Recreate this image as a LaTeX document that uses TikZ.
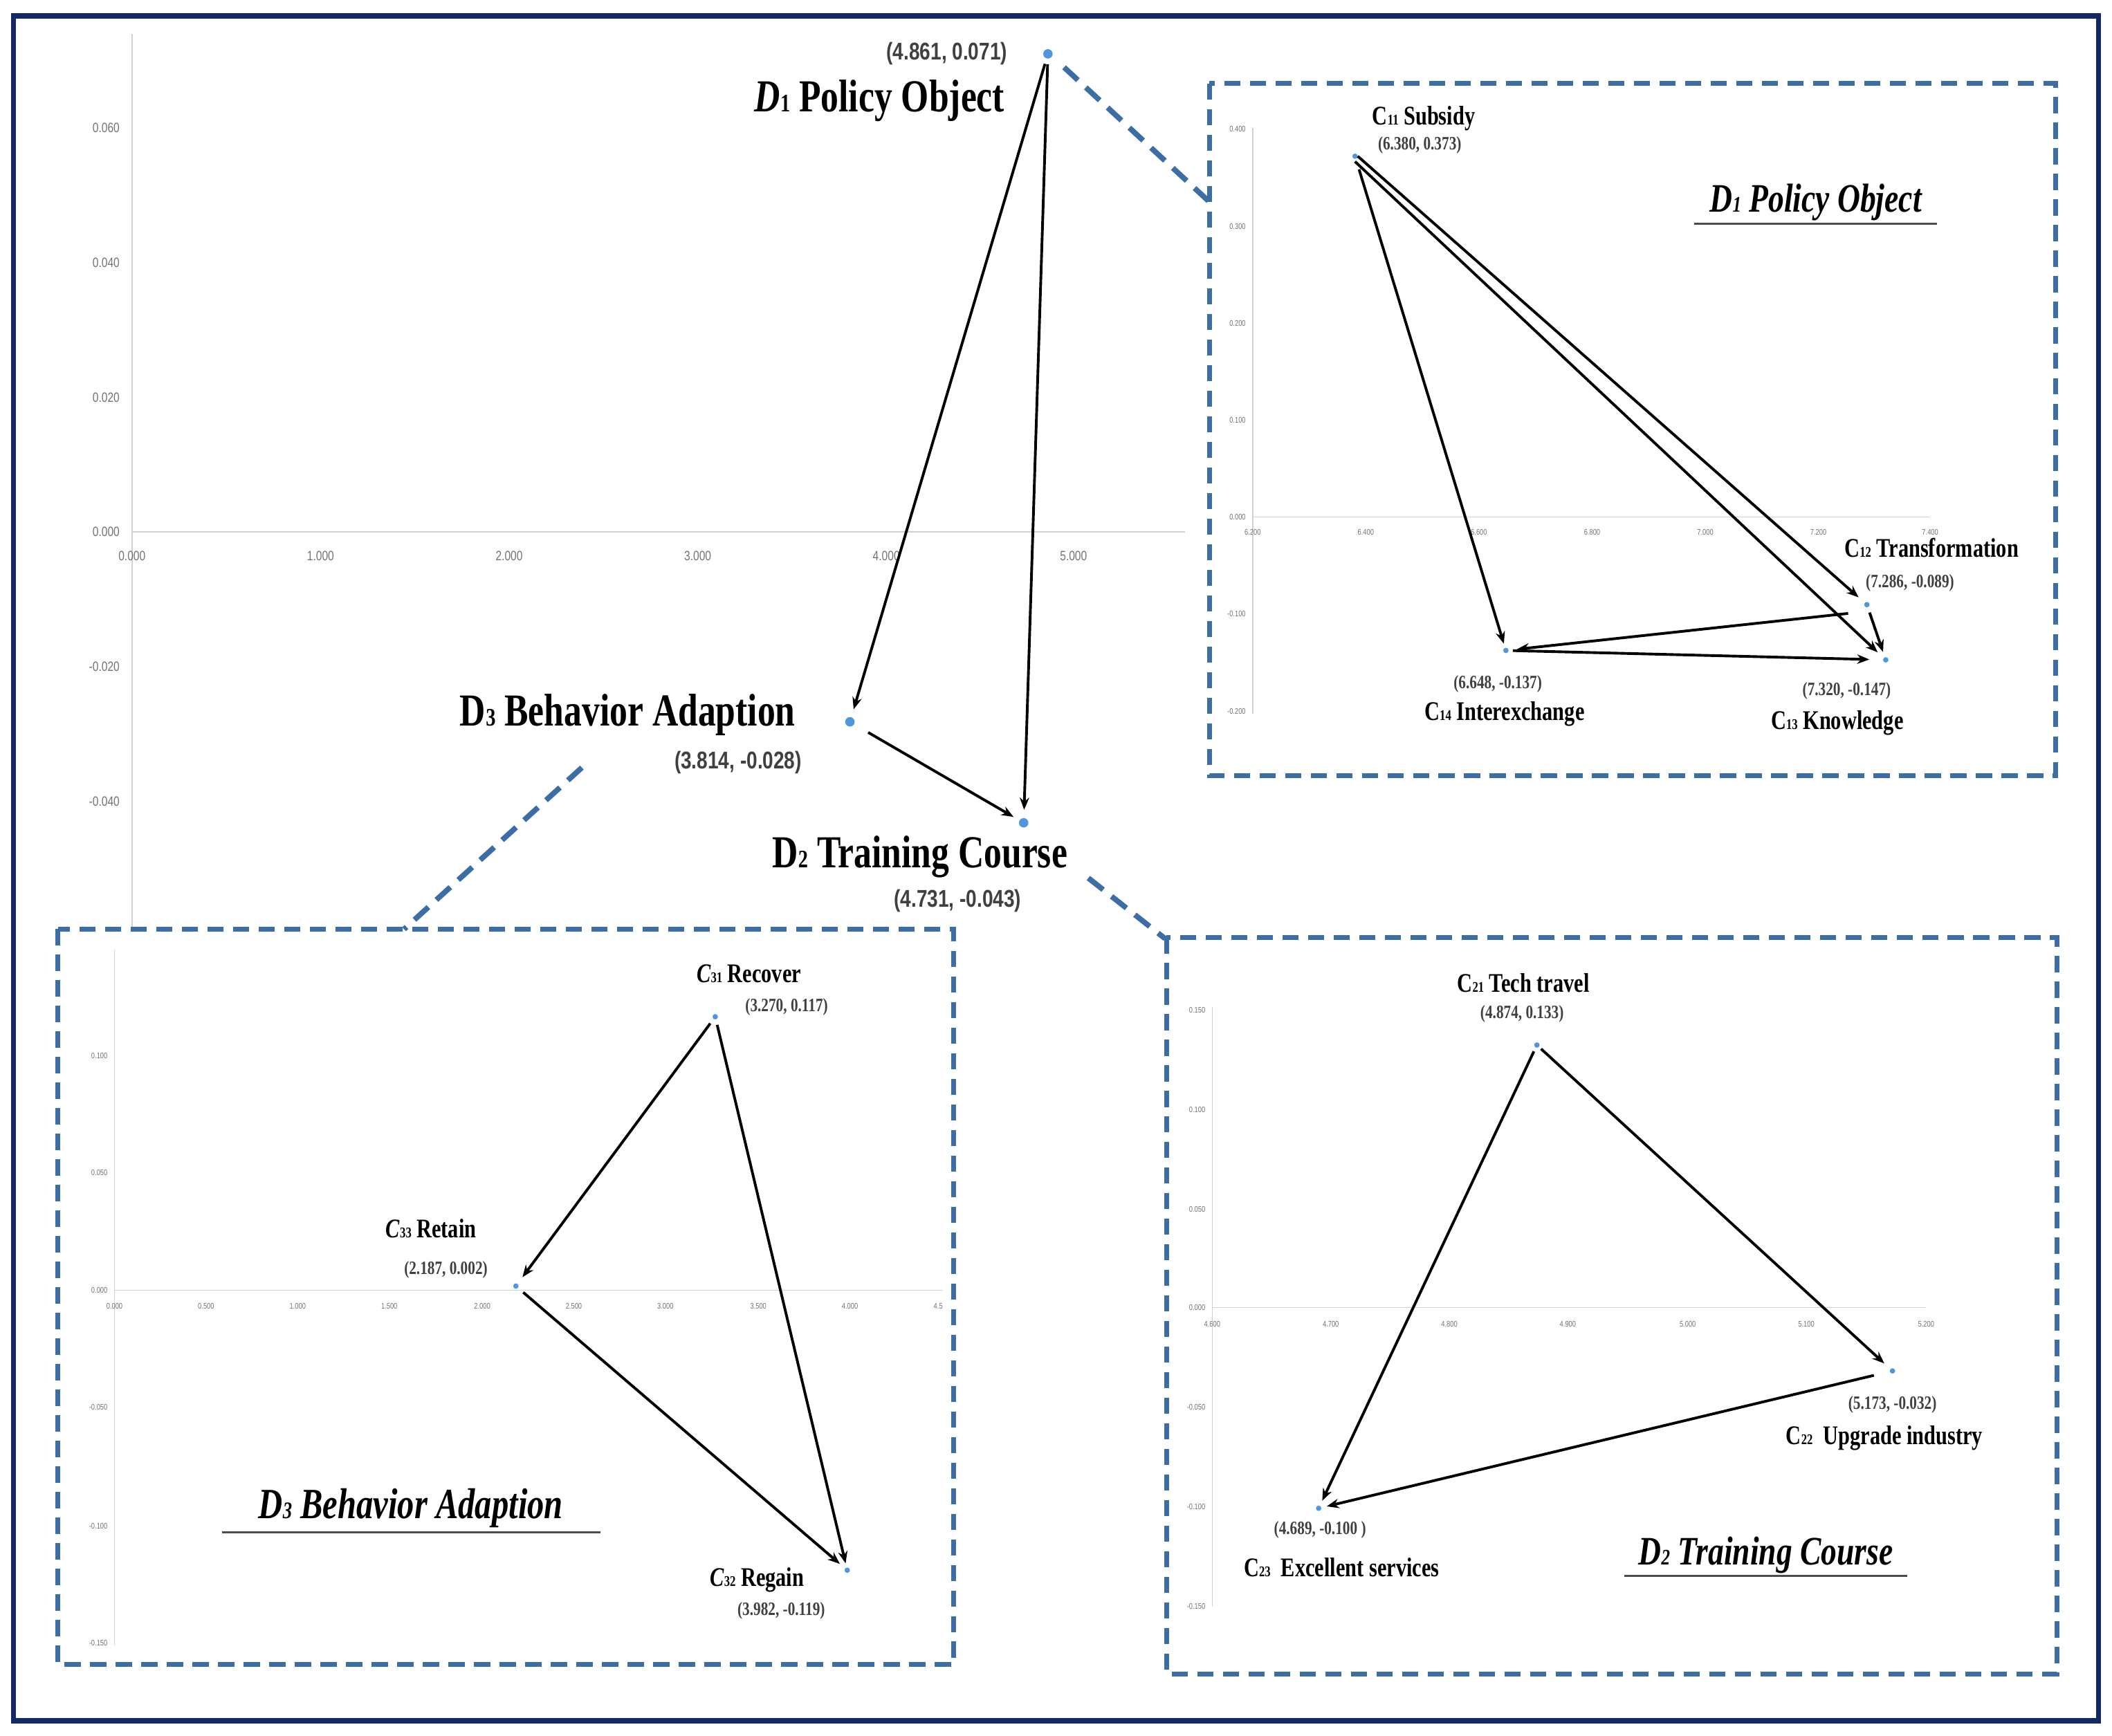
\documentclass[tikz,border=0pt]{standalone}
\usepackage{fontspec}
\setmainfont{Liberation Serif}
\newfontfamily\cond[FakeStretch=0.78]{Liberation Serif}
\newfontfamily\condsans[FakeStretch=0.8]{Liberation Sans}
\usetikzlibrary{arrows.meta}
\newcommand\sbx[1]{\scalebox{0.55}{#1}}
\definecolor{frame}{RGB}{20,40,100}
\definecolor{dblue}{RGB}{60,110,165}
\definecolor{pt}{RGB}{80,150,220}
\begin{document}
\begin{tikzpicture}[x=1pt,y=-1pt,
  axis/.style={draw=black!18,line width=0.8},
  tick/.style={font=\fontsize{6}{6}\selectfont\condsans,text=black!55,inner sep=1},
  dbox/.style={draw=dblue,line width=3.5,dash pattern=on 12 off 7},
  dlink/.style={draw=dblue,line width=4,dash pattern=on 14 off 8},
  arr/.style={-{Stealth[length=9,width=7]},line width=2,black},
  pnt/.style={circle,fill=pt,inner sep=0,minimum size=5},
  big/.style={font=\fontsize{34}{34}\selectfont\cond\bfseries,inner sep=0},
  lab/.style={font=\fontsize{20}{20}\selectfont\cond\bfseries,inner sep=0},
  crd/.style={font=\fontsize{14}{14}\selectfont\cond\bfseries,text=black!75,inner sep=0},
  crdm/.style={font=\fontsize{18}{18}\selectfont\condsans\bfseries,text=black!75,inner sep=0},
  ttl/.style={font=\fontsize{30}{30}\selectfont\cond\bfseries\itshape,inner sep=0}]
\useasboundingbox (0,0) rectangle (1568,1289);
\fill[white] (0,0) rectangle (1568,1289);
\draw[frame,line width=4] (10,12) rectangle (1558,1278);
% main chart axes
\draw[axis] (98,25) -- (98,690);
\draw[axis] (98,395) -- (880,395);
\foreach \v/\y in {0.060/95,0.040/195,0.020/295,0.000/395,-0.020/495,-0.040/595}
  \node[tick,anchor=east,font=\fontsize{10}{10}\selectfont\condsans] at (90,\y) {\v};
\foreach \v/\x in {0.000/98,1.000/238,2.000/378,3.000/518,4.000/658,5.000/797}
  \node[tick,font=\fontsize{10}{10}\selectfont\condsans] at (\x,413) {\v};
% boxes
\draw[dbox] (898,62) rectangle (1526,576);
\draw[dbox] (43,690) rectangle (708,1236);
\draw[dbox] (866,696) rectangle (1527,1243);
\coordinate (l1a) at (790,50); \coordinate (l1b) at (898,150);
\coordinate (l3a) at (432,570); \coordinate (l3b) at (300,690);
\coordinate (l2a) at (808,652); \coordinate (l2b) at (865,697);
\draw[dlink] (l1a) -- (l1b);
\draw[dlink] (l3a) -- (l3b);
\draw[dlink] (l2a) -- (l2b);
% main points
\node[pnt,minimum size=7] (D1) at (778,40) {};
\node[pnt,minimum size=7] (D3) at (631,536) {};
\node[pnt,minimum size=7] (D2) at (760,611) {};
\draw[arr,shorten >=6pt,shorten <=4pt] (D1) -- (D3);
\draw[arr,shorten >=6pt,shorten <=4pt] (D1) -- (D2);
\draw[arr,shorten >=5pt,shorten <=12pt] (D3) -- (D2);
\node[crdm] (tD1c) at (703,40) {(4.861, 0.071)};
\node[big] (tD1) at (653,75) {\textit{D}\sbx{1} Policy Object};
\node[big] (tD3) at (466,531) {D\sbx{3} Behavior Adaption};
\node[crdm] (tD3c) at (548,566) {(3.814, -0.028)};
\node[big] (tD2) at (683,636) {D\sbx{2} Training Course};
\node[crdm] (tD2c) at (711,669) {(4.731, -0.043)};
% ---- D1 inner chart
\draw[axis] (930,95) -- (930,530);
\draw[axis] (930,384) -- (1433,384);
\foreach \v/\y in {0.400/96,0.300/168,0.200/240,0.100/312,0.000/384,-0.100/456,-0.200/528}
  \node[tick,anchor=east] at (926,\y) {\v};
\foreach \v/\x in {6.200/930,6.400/1014,6.600/1098,6.800/1182,7.000/1266,7.200/1350,7.400/1433}
  \node[tick] at (\x,395) {\v};
\node[pnt,minimum size=4] (C11) at (1006,116) {};
\node[pnt,minimum size=4] (C12) at (1386,449) {};
\node[pnt,minimum size=4] (C13) at (1400,490) {};
\node[pnt,minimum size=4] (C14) at (1118,483) {};
\draw[arr,shorten >=6pt] ([xshift=2pt]C11.center) -- (C12);
\draw[arr,shorten >=6pt] ([yshift=-4pt]C11.center) -- (C13);
\draw[arr,shorten >=3pt,shorten <=8pt] (C11) -- (C14);
\draw[arr,shorten >=4pt,shorten <=4pt] (C12) -- (C13);
\draw[arr,shorten >=6pt,shorten <=14pt] ([yshift=-5pt]C12.center) -- (C14);
\draw[arr,shorten >=10pt,shorten <=3pt] (C14) -- (C13);
\node[lab] at (1057,88) {C\sbx{11} Subsidy};
\node[crd] at (1054,108) {(6.380, 0.373)};
\node[ttl] (t1) at (1348,150) {\textit{D}\sbx{1} Policy Object};
\draw[black!70,line width=1.5] (1258,166) -- (1438,166);
\node[lab] at (1434,407) {C\sbx{12} Transformation};
\node[crd] at (1418,433) {(7.286, -0.089)};
\node[crd] at (1112,508) {(6.648, -0.137)};
\node[lab] at (1117,530) {C\sbx{14} Interexchange};
\node[crd] at (1371,513) {(7.320, -0.147)};
\node[lab] at (1364,537) {C\sbx{13} Knowledge};
% ---- D3 inner chart
\draw[axis] (85,705) -- (85,1222);
\draw[axis] (85,958) -- (700,958);
\foreach \v/\y in {0.100/784,0.050/871,0.000/958,-0.050/1045,-0.100/1133,-0.150/1220}
  \node[tick,anchor=east] at (81,\y) {\v};
\foreach \v/\x in {0.000/85,0.500/153,1.000/221,1.500/289,2.000/358,2.500/426,3.000/494,3.500/563,4.000/631}
  \node[tick] at (\x,970) {\v};
\node[tick,anchor=west] at (692,970) {4.5};
\node[pnt,minimum size=4] (C31) at (531,755) {};
\node[pnt,minimum size=4] (C33) at (383,955) {};
\node[pnt,minimum size=4] (C32) at (629,1166) {};
\draw[arr,shorten >=6pt,shorten <=4pt] (C31) -- (C33);
\draw[arr,shorten >=3pt,shorten <=4pt] (C31) -- (C32);
\draw[arr,shorten >=5pt,shorten <=5pt] (C33) -- (C32);
\node[lab] at (556,723) {\textit{C}\sbx{31} Recover};
\node[crd] at (584,748) {(3.270, 0.117)};
\node[lab] at (320,912) {\textit{C}\sbx{33} Retain};
\node[crd] at (331,943) {(2.187, 0.002)};
\node[ttl,font=\fontsize{32}{32}\selectfont\cond\bfseries\itshape] at (305,1120) {D\sbx{3} Behavior Adaption};
\draw[black!70,line width=1.5] (165,1138) -- (446,1138);
\node[lab] at (562,1173) {\textit{C}\sbx{32} Regain};
\node[crd] at (580,1196) {(3.982, -0.119)};
% ---- D2 inner chart
\draw[axis] (900,748) -- (900,1193);
\draw[axis] (900,971) -- (1430,971);
\foreach \v/\y in {0.150/750,0.100/824,0.050/898,0.000/971,-0.050/1045,-0.100/1119,-0.150/1193}
  \node[tick,anchor=east] at (896,\y) {\v};
\foreach \v/\x in {4.600/900,4.700/988,4.800/1076,4.900/1164,5.000/1253,5.100/1341,5.200/1430}
  \node[tick] at (\x,983) {\v};
\node[pnt,minimum size=4] (C21) at (1141,776) {};
\node[pnt,minimum size=4] (C22) at (1405,1018) {};
\node[pnt,minimum size=4] (C23) at (979,1120) {};
\draw[arr,shorten >=6pt,shorten <=2pt] (C21) -- (C22);
\draw[arr,shorten >=4pt,shorten <=3pt] (C21) -- (C23);
\draw[arr,shorten >=4pt,shorten <=12pt] (C22) -- (C23);
\node[lab] at (1131,730) {C\sbx{21} Tech travel};
\node[crd] at (1130,753) {(4.874, 0.133)};
\node[crd] at (1405,1043) {(5.173, -0.032)};
\node[lab] at (1399,1068) {C\sbx{22}\ \ Upgrade industry};
\node[crd] at (980,1136) {(4.689, -0.100 )};
\node[lab] at (996,1164) {C\sbx{23}\ \ Excellent services};
\node[ttl] at (1311,1155) {\textit{D}\sbx{2} Training Course};
\draw[black!70,line width=1.5] (1206,1170) -- (1416,1170);
\end{tikzpicture}
\end{document}
